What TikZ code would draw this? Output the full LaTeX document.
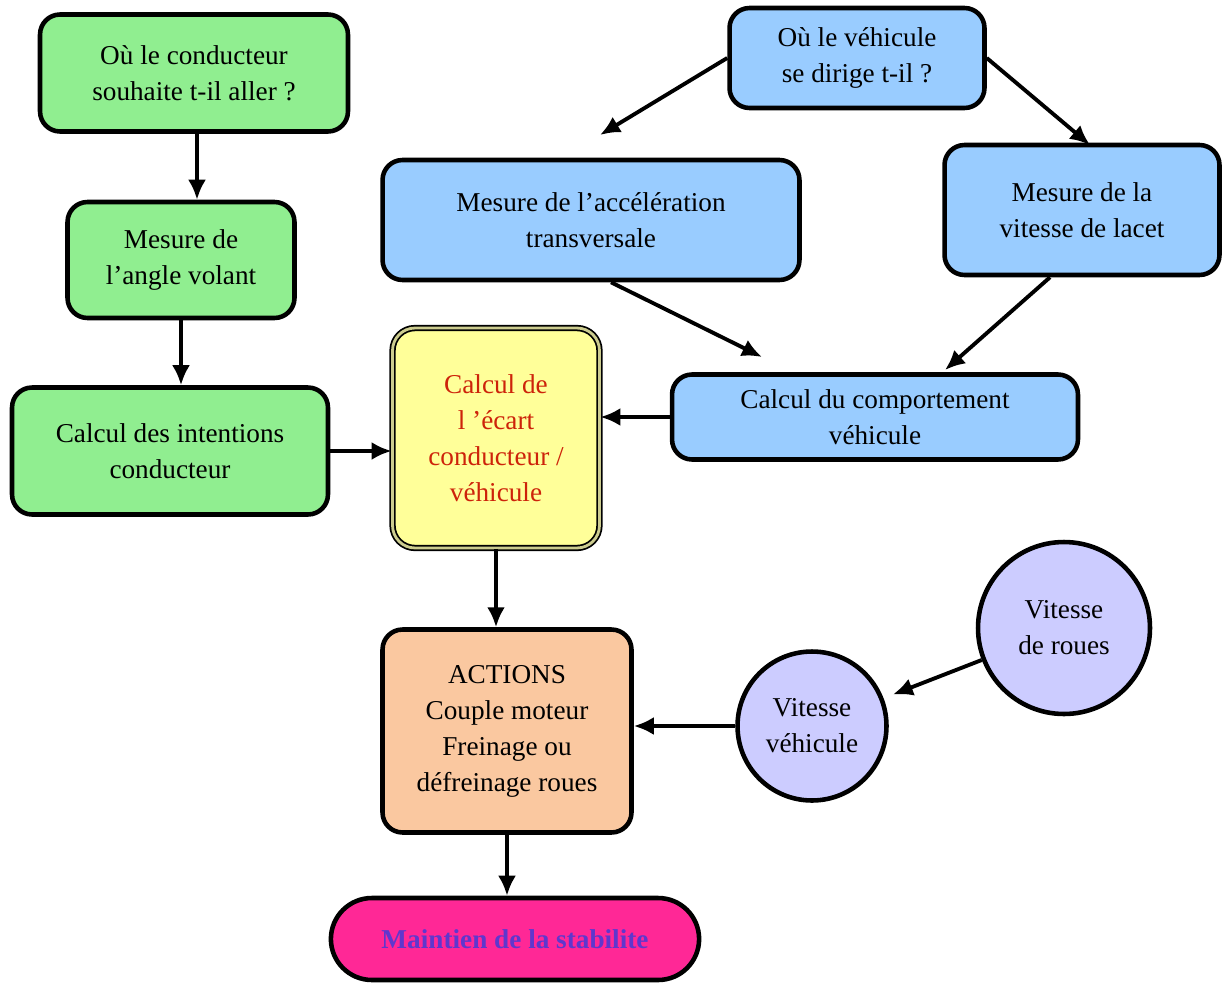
\documentclass[tikz,border=0pt]{standalone}
\usepackage{fontspec}
\setmainfont{Liberation Serif}
\usetikzlibrary{shapes.misc,arrows.meta}
\definecolor{vert}{RGB}{144,238,144}
\definecolor{bleu}{RGB}{153,204,255}
\definecolor{jaune}{RGB}{255,255,153}
\definecolor{peche}{RGB}{250,200,160}
\definecolor{lavande}{RGB}{204,204,255}
\definecolor{rose}{RGB}{255,40,150}
\definecolor{rouge}{RGB}{205,35,10}
\definecolor{violet}{RGB}{95,55,205}

\begin{document}
\begin{tikzpicture}[x=0.02cm,y=-0.02cm,>={Latex[length=0.4cm,width=0.36cm]},
  every node/.style={font=\fontsize{15.5}{20.5}\selectfont,align=center},
  boite/.style={draw,line width=2.6pt,rounded corners=0.4cm},
  rond/.style={circle,draw,line width=2.6pt,fill=lavande},
  fleche/.style={->,line width=2.2pt}]
  \useasboundingbox (0,0) rectangle (1223,987);

  \node[boite,fill=vert,minimum width=6.16cm,minimum height=2.34cm] (vouloir) at (194,73) {Où le conducteur\\souhaite t-il aller ?};
  \node[boite,fill=vert,minimum width=4.54cm,minimum height=2.32cm] (angle) at (181,260) {Mesure de\\l'angle volant};
  \node[boite,fill=vert,minimum width=6.32cm,minimum height=2.54cm] (intent) at (170,451) {Calcul des intentions\\conducteur};

  \node[boite,fill=bleu,minimum width=5.1cm,minimum height=2.0cm] (dirige) at (857,58) {Où le véhicule\\se dirige t-il ?};
  \node[boite,fill=bleu,minimum width=8.34cm,minimum height=2.4cm] (accel) at (591,220) {Mesure de l'accélération\\transversale};
  \node[boite,fill=bleu,minimum width=5.5cm,minimum height=2.6cm] (lacet) at (1082,210) {Mesure de la\\vitesse de lacet};
  \node[boite,fill=bleu,minimum width=8.12cm,minimum height=1.7cm] (compo) at (875,417) {Calcul du comportement\\véhicule};

  \node[draw,double=jaune!60!gray,double distance=1.6pt,line width=1pt,rounded corners=0.45cm,fill=jaune,
    text=rouge,minimum width=4.14cm,minimum height=4.4cm] (ecart) at (496,438) {Calcul de\\l '\'ecart\\conducteur /\\véhicule};

  \node[boite,fill=peche,minimum width=4.98cm,minimum height=4.06cm] (actions) at (507,731) {ACTIONS\\Couple moteur\\Freinage ou\\défreinage roues};

  \node[rond,minimum size=2.98cm] (vveh) at (812,726) {Vitesse\\véhicule};
  \node[rond,minimum size=3.44cm] (vroues) at (1064,628) {Vitesse\\de roues};

  \node[rounded rectangle,draw,line width=2.6pt,fill=rose,text=violet,font=\fontsize{15.5}{20}\selectfont\bfseries,
    minimum width=7.6cm,minimum height=1.64cm] (stable) at (515,939) {Maintien de la stabilite};

  \coordinate (finA) at (600,135);
  \coordinate (finB) at (1090,145);
  \coordinate (finC) at (762,357);
  \coordinate (finD) at (945,370);

  \draw[fleche] (vouloir.south -| 197,0) -- (angle.north -| 197,0);
  \draw[fleche] (angle.south) -- (angle.south |- intent.north);
  \draw[fleche] (intent.east) -- (intent.east -| ecart.west);
  \draw[fleche] (dirige.west) -- (finA);
  \draw[fleche] (dirige.east) -- (finB);
  \draw[fleche] ([xshift=0.4cm]accel.south) -- (finC);
  \draw[fleche] ([xshift=-0.64cm]lacet.south) -- (finD);
  \draw[fleche] (compo.west) -- (compo.west -| ecart.east);
  \draw[fleche] (ecart.south) -- (ecart.south |- actions.north);
  \draw[fleche] (vroues) -- (vveh) [shorten >=0.2cm];
  \draw[fleche] (vveh.west) -- (vveh.west -| actions.east);
  \draw[fleche] (actions.south) -- (actions.south |- stable.north);

\end{tikzpicture}
\end{document}
